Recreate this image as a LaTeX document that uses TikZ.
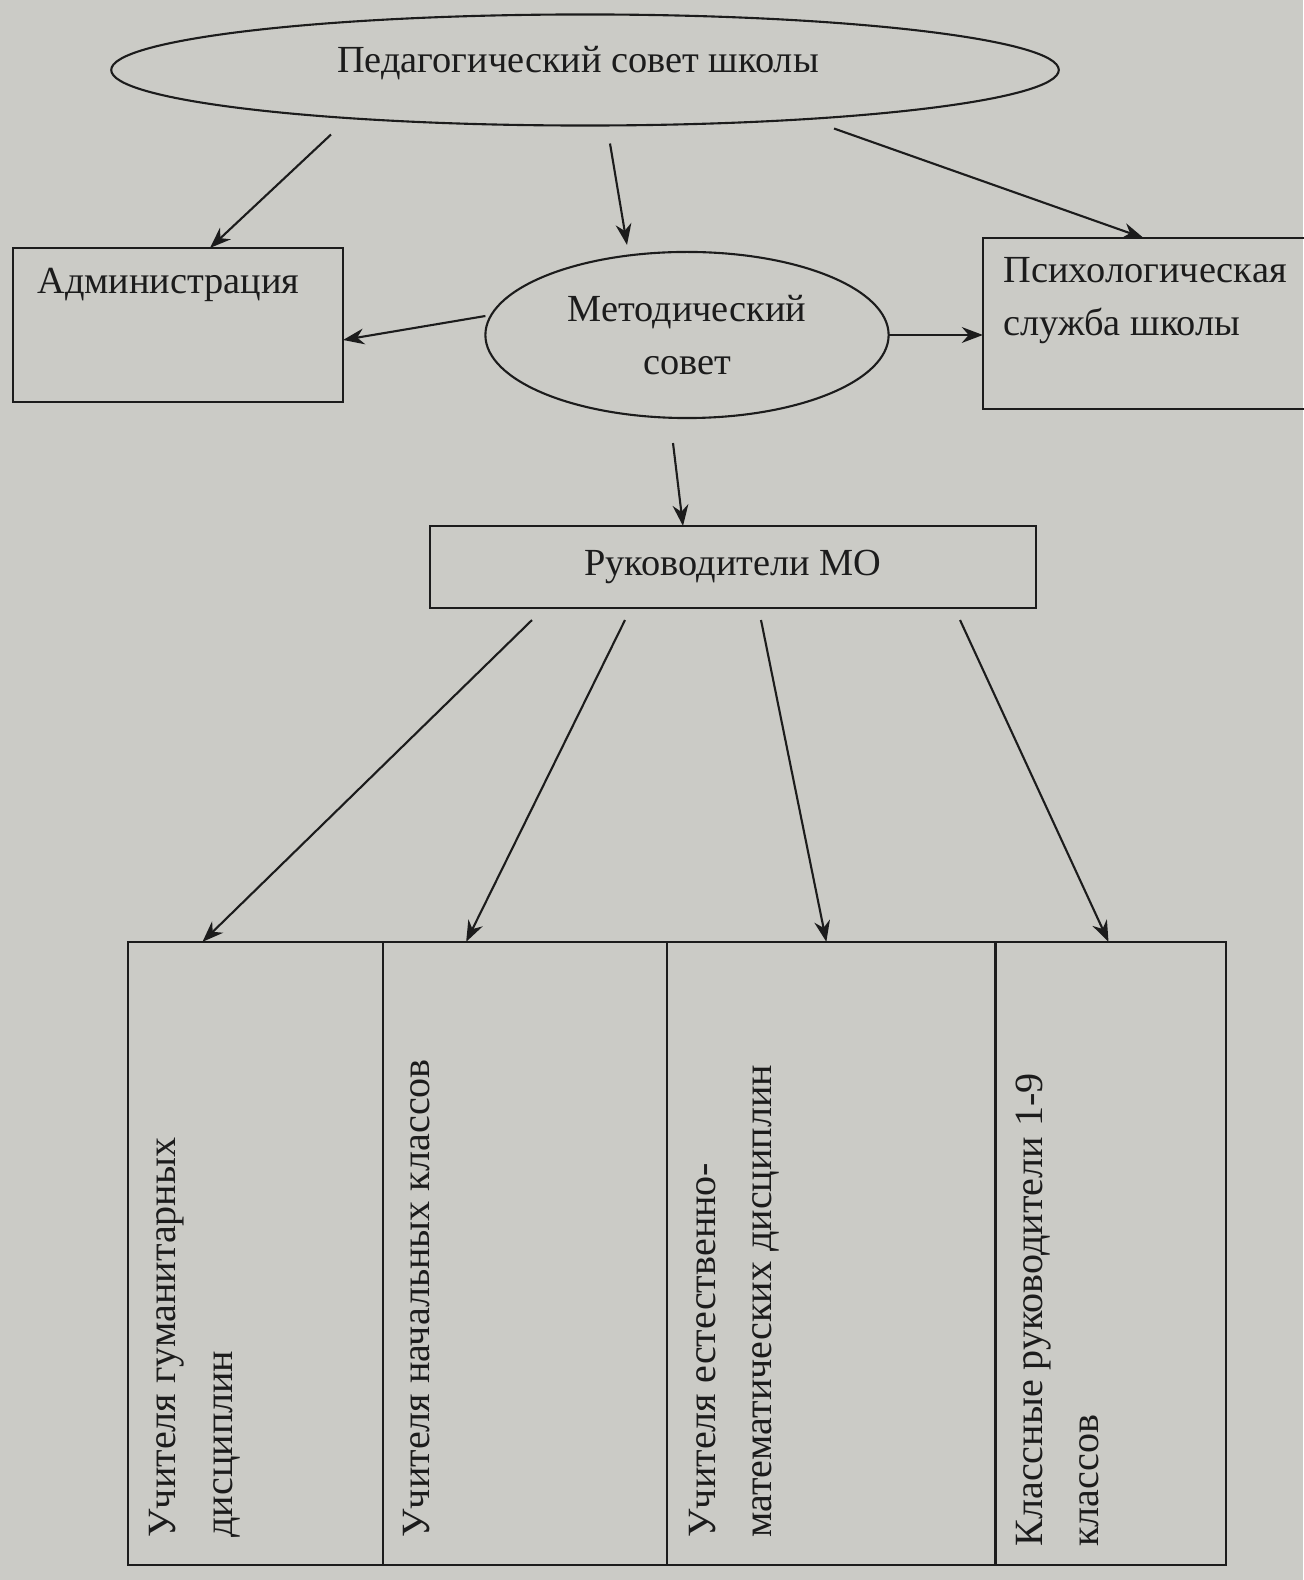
\documentclass[tikz,border=0pt]{standalone}
\usepackage{fontspec}
\setmainfont{Liberation Serif}
\usetikzlibrary{positioning,calc,arrows.meta,shapes.geometric}
\definecolor{paper}{RGB}{203,203,198}
\definecolor{ink}{RGB}{28,28,28}

\begin{document}
\begin{tikzpicture}[x=0.01cm, y=-0.01cm,
    every node/.style={font=\fontsize{10.9}{15}\selectfont, text=ink},
    box/.style={draw=ink, line width=0.6pt, rectangle, inner sep=0pt, outer sep=0pt},
    oval/.style={draw=ink, line width=0.6pt, ellipse, inner sep=0pt, outer sep=0pt},
    cell/.style={box, minimum height=6.23cm},
    vtext/.style={rotate=90, anchor=north west, align=left, inner sep=0pt,
        font=\fontsize{11.4}{16}\selectfont},
    arr/.style={draw=ink, line width=0.6pt, -{Stealth[length=6pt, width=4.5pt]}}]
\useasboundingbox (0,0) rectangle (1303,1580);
\fill[paper] (0,0) rectangle (1303,1580);

% top level
\node[oval, minimum width=9.47cm, minimum height=1.11cm] (ped) at (585,70) {};
\node at (578,63) (pedtxt) {Педагогический совет школы};

\node[box, minimum width=3.30cm, minimum height=1.54cm] (adm) at (178,325) {};
\node[anchor=base west] (admtxt) at ($(adm.north west)+(12,46)$) {Администрация};

\node[oval, minimum width=4.03cm, minimum height=1.66cm, align=center] (met) at (687,335)
    {Методический\\совет};

\node[box, minimum width=3.37cm, minimum height=1.71cm] (psy) at (1151.5,323.5) {};
\node[anchor=north west, align=left, inner sep=0pt] (psytxt) at ($(psy.north west)+(20,19)$)
    {Психологическая\\служба школы};

\node[box, minimum width=6.06cm, minimum height=0.82cm] (ruk) at (733,567) {Руководители МО};

% table of the MO
\node[cell, minimum width=2.55cm] (hum) at (255.5,1253.5) {};
\node[cell, minimum width=2.84cm, right=0pt of hum] (nach) {};
\node[cell, minimum width=3.28cm, right=0pt of nach] (estm) {};
\node[cell, minimum width=2.30cm, right=0pt of estm] (kl) {};

\node[vtext] (humtxt) at ($(hum.south west)+(21,-27)$) {Учителя гуманитарных\\дисциплин};
\node[vtext] (nachtxt) at ($(nach.south west)+(19,-27)$) {Учителя начальных классов};
\node[vtext] (estmtxt) at ($(estm.south west)+(21,-27)$) {Учителя естественно-\\математических дисциплин};
\node[vtext] (kltxt) at ($(kl.south west)+(20,-18)$) {Классные руководители 1-9\\классов};

% arrows
\draw[arr] ($(ped.south)+(-254,9)$) -- ($(adm.north)+(32,0)$);
\draw[arr] ($(ped.south)+(25,18)$) -- ($(met.north)+(-60,-7)$);
\draw[arr] ($(ped.south)+(249,3)$) -- ($(psy.north)+(-8,0)$);
\draw[arr] ($(met.west)+(0,-19)$) -- ($(adm.east)+(0,15)$);
\draw[arr] (met.east) -- (met.east -| psy.west);
\draw[arr] ($(met.south)+(-14,25)$) -- ($(ruk.north)+(-50,0)$);

\draw[arr] ($(ruk.south)+(-201,12)$) -- ($(hum.north)+(-53,0)$);
\draw[arr] ($(ruk.south)+(-108,12)$) -- ($(nach.north)+(-59,0)$);
\draw[arr] ($(ruk.south)+(28,12)$) -- ($(estm.north)+(-5,0)$);
\draw[arr] ($(ruk.south)+(227,12)$) -- ($(kl.north)+(-2,0)$);
\end{tikzpicture}
\end{document}
